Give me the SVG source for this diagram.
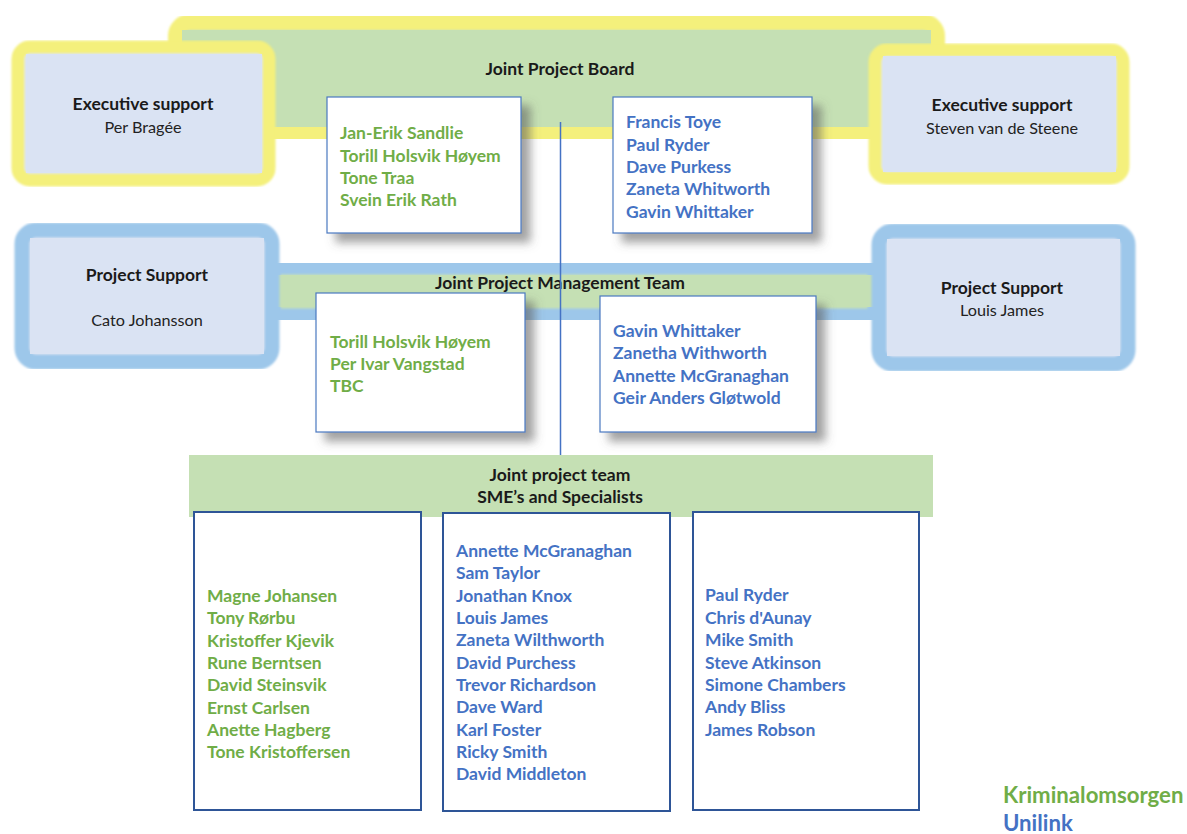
<svg xmlns="http://www.w3.org/2000/svg" width="1187" height="834" viewBox="0 0 1187 834">
<defs>
<filter id="shadow" x="-10%" y="-10%" width="130%" height="130%">
<feDropShadow dx="9" dy="9" stdDeviation="5" flood-color="#555" flood-opacity="0.55"/>
</filter>
<filter id="soft" x="-5%" y="-5%" width="110%" height="110%">
<feGaussianBlur stdDeviation="1.2"/>
</filter>
</defs>
<style>
text{font-family:Lato,"Liberation Sans",sans-serif;font-size:17px}
.h{font-weight:bold;fill:#1a1a1a;text-anchor:middle;font-size:17.5px}
.n{fill:#222;text-anchor:middle;font-size:16.2px}
.g{font-weight:bold;fill:#70ad47;font-size:17.5px}
.b{font-weight:bold;fill:#4472c4;font-size:17.5px}
.lg{font-size:22.2px}
.yf{fill:#c5e0b4;stroke:#f4f07c;stroke-width:16}
.ye{fill:#dae3f3;stroke:#f4f07c;stroke-width:13}
.bf{fill:#dae3f3;stroke:#9dc7ea;stroke-width:15}
.box{fill:#fff;stroke:#4a78c0;stroke-width:1.2}
.col{fill:#fff;stroke:#2e5597;stroke-width:2}
</style>
<rect width="1187" height="834" fill="#fff"/>

<g id="joint-project-board">
<rect class="yf" x="176" y="22" width="761" height="111" rx="14" filter="url(#soft)"/>
<rect x="182" y="30" width="749" height="97" fill="#c5e0b4"/>
<text class="h" x="560" y="75">Joint Project Board</text>
</g>

<g id="jpmt-band">
<rect x="272" y="266" width="604" height="51" fill="#c5e0b4" stroke="#9dc7ea" stroke-width="17" filter="url(#soft)"/>
<rect x="272" y="275" width="604" height="32" fill="#c5e0b4"/>
<text class="h" x="560" y="289">Joint Project Management Team</text>
</g>

<g id="connectors">
<line x1="560.5" y1="122" x2="560.5" y2="456" stroke="#4472c4" stroke-width="1.5"/>
</g>

<g id="exec-left">
<rect class="ye" x="18" y="47" width="251" height="133" rx="12" filter="url(#soft)"/>
<rect x="26" y="54" width="236" height="119" fill="#dae3f3"/>
<text class="h" x="143" y="110">Executive support</text>
<text class="n" x="143" y="133">Per Bragée</text>
</g>

<g id="exec-right">
<rect class="ye" x="875" y="50" width="248" height="128" rx="12" filter="url(#soft)"/>
<rect x="883" y="56" width="233" height="116" fill="#dae3f3"/>
<text class="h" x="1002" y="111">Executive support</text>
<text class="n" x="1002" y="134">Steven van de Steene</text>
</g>

<g id="support-left">
<rect class="bf" x="22" y="230" width="250" height="132" rx="14" filter="url(#soft)"/>
<rect x="30" y="238" width="234" height="116" fill="#dae3f3"/>
<text class="h" x="147" y="281">Project Support</text>
<text class="n" x="147" y="326">Cato Johansson</text>
</g>

<g id="support-right">
<rect class="bf" x="879" y="231" width="249" height="133" rx="14" filter="url(#soft)"/>
<rect x="887" y="239" width="233" height="117" fill="#dae3f3"/>
<text class="h" x="1002" y="294">Project Support</text>
<text class="n" x="1002" y="316">Louis James</text>
</g>

<g id="board-kriminalomsorgen">
<rect class="box" x="327" y="97" width="194" height="136" filter="url(#shadow)"/>
<text class="g" x="340" y="139">Jan-Erik Sandlie</text>
<text class="g" x="340" y="162">Torill Holsvik Høyem</text>
<text class="g" x="340" y="184">Tone Traa</text>
<text class="g" x="340" y="206">Svein Erik Rath</text>
</g>

<g id="board-unilink">
<rect class="box" x="613" y="97" width="199" height="136" filter="url(#shadow)"/>
<text class="b" x="626" y="128">Francis Toye</text>
<text class="b" x="626" y="151">Paul Ryder</text>
<text class="b" x="626" y="173">Dave Purkess</text>
<text class="b" x="626" y="195">Zaneta Whitworth</text>
<text class="b" x="626" y="218">Gavin Whittaker</text>
</g>

<g id="jpmt-kriminalomsorgen">
<rect class="box" x="316" y="293" width="209" height="139" filter="url(#shadow)"/>
<text class="g" x="330" y="348">Torill Holsvik Høyem</text>
<text class="g" x="330" y="370">Per Ivar Vangstad</text>
<text class="g" x="330" y="392">TBC</text>
</g>

<g id="jpmt-unilink">
<rect class="box" x="600" y="296" width="216" height="136" filter="url(#shadow)"/>
<text class="b" x="613" y="337">Gavin Whittaker</text>
<text class="b" x="613" y="359">Zanetha Withworth</text>
<text class="b" x="613" y="382">Annette McGranaghan</text>
<text class="b" x="613" y="404">Geir Anders Gløtwold</text>
</g>

<g id="joint-project-team">
<rect x="189" y="455" width="744" height="62" fill="#c5e0b4"/>
<text class="h" x="560" y="481">Joint project team</text>
<text class="h" x="560" y="503">SME’s and Specialists</text>
</g>

<g id="team-kriminalomsorgen">
<rect class="col" x="194" y="512" width="227" height="298"/>
<text class="g" x="207" y="602">Magne Johansen</text>
<text class="g" x="207" y="624">Tony Rørbu</text>
<text class="g" x="207" y="647">Kristoffer Kjevik</text>
<text class="g" x="207" y="669">Rune Berntsen</text>
<text class="g" x="207" y="691">David Steinsvik</text>
<text class="g" x="207" y="714">Ernst Carlsen</text>
<text class="g" x="207" y="736">Anette Hagberg</text>
<text class="g" x="207" y="758">Tone Kristoffersen</text>
</g>

<g id="team-unilink-1">
<rect class="col" x="443" y="513" width="227" height="298"/>
<text class="b" x="456" y="557">Annette McGranaghan</text>
<text class="b" x="456" y="579">Sam Taylor</text>
<text class="b" x="456" y="602">Jonathan Knox</text>
<text class="b" x="456" y="624">Louis James</text>
<text class="b" x="456" y="646">Zaneta Wilthworth</text>
<text class="b" x="456" y="669">David Purchess</text>
<text class="b" x="456" y="691">Trevor Richardson</text>
<text class="b" x="456" y="713">Dave Ward</text>
<text class="b" x="456" y="736">Karl Foster</text>
<text class="b" x="456" y="758">Ricky Smith</text>
<text class="b" x="456" y="780">David Middleton</text>
</g>

<g id="team-unilink-2">
<rect class="col" x="693" y="512" width="226" height="298"/>
<text class="b" x="705" y="601">Paul Ryder</text>
<text class="b" x="705" y="624">Chris d'Aunay</text>
<text class="b" x="705" y="646">Mike Smith</text>
<text class="b" x="705" y="669">Steve Atkinson</text>
<text class="b" x="705" y="691">Simone Chambers</text>
<text class="b" x="705" y="713">Andy Bliss</text>
<text class="b" x="705" y="736">James Robson</text>
</g>

<g id="legend">
<text class="g lg" x="1003" y="803">Kriminalomsorgen</text>
<text class="b lg" x="1003" y="831">Unilink</text>
</g>
</svg>
